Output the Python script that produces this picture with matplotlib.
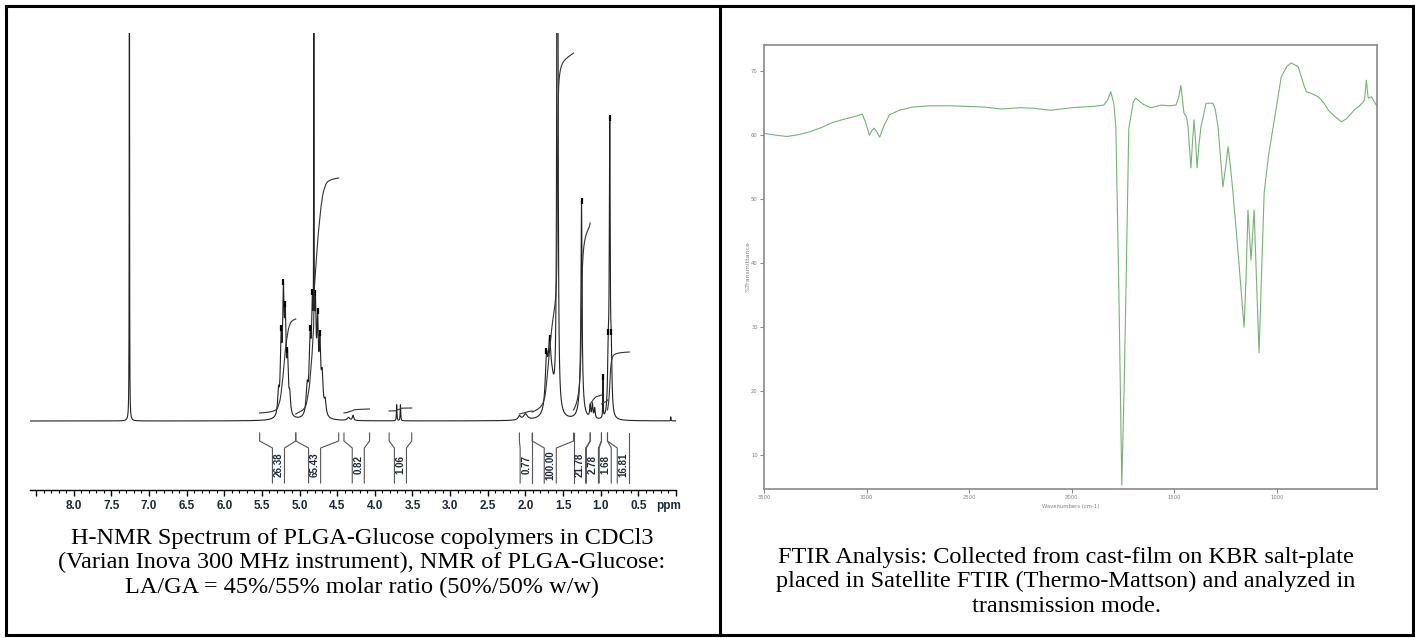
import numpy as np
import matplotlib
matplotlib.use('Agg')
import matplotlib.pyplot as plt
from matplotlib.lines import Line2D

# ---------------- NMR data (ppm, height above baseline, half width) ----------------
peak_ppm = [7.26, 5.28, 5.245, 5.215, 5.19, 5.16, 5.13,
            4.90, 4.86, 4.83, 4.81, 4.79, 4.76, 4.73, 4.70, 4.66,
            4.35, 4.29, 3.71, 3.66, 2.08, 2.00,
            1.72, 1.68, 1.65, 1.575, 1.26, 1.255,
            1.14, 1.11, 1.08, 0.97, 0.90, 0.88, 0.86, 0.07]
peak_height = [700, 22, 70, 110, 85, 50, 18,
               26, 70, 95, 700, 95, 80, 62, 36, 14,
               3, 5, 16, 16, 4, 6,
               50, 50, 30, 1200, 30, 190,
               12, 14, 10, 40, 55, 280, 55, 4]
peak_hwhm = [0.002, 0.012, 0.012, 0.012, 0.012, 0.012, 0.012,
             0.015, 0.015, 0.012, 0.002, 0.012, 0.012, 0.012, 0.015, 0.015,
             0.02, 0.01, 0.004, 0.004, 0.02, 0.03,
             0.02, 0.02, 0.04, 0.006, 0.03, 0.008,
             0.008, 0.008, 0.008, 0.003, 0.01, 0.007, 0.01, 0.003]
pick_ppm = [5.245, 5.215, 5.19, 5.16, 4.86, 4.83, 4.79, 4.76, 4.73,
            1.72, 1.68, 1.255, 0.97, 0.90, 0.88, 0.86]
baseline = 69

# integral regions
int_hi = [5.53, 5.05, 4.41, 3.81, 2.08, 1.91, 1.36, 1.14, 0.99, 0.91]
int_lo = [5.05, 4.48, 4.07, 3.51, 1.91, 1.36, 1.14, 0.99, 0.91, 0.62]
int_val = ['26.38', '65.43', '0.82', '1.06', '0.77', '100.00', '21.78', '2.78', '1.68', '16.81']
int_lab_ppm = [5.28, 4.80, 4.22, 3.66, 1.99, 1.67, 1.28, 1.11, 0.94, 0.70]
int_start = [77, 76, 77, 79, 76, 78, 80, 86, 86, 80]
int_end = [171, 312, 81, 82, 79, 437, 267, 95, 90, 138]

ppm_ticks = [8.5, 8.0, 7.5, 7.0, 6.5, 6.0, 5.5, 5.0, 4.5, 4.0, 3.5, 3.0, 2.5, 2.0, 1.5, 1.0, 0.5, 0.0]

# ---------------- FTIR data ----------------
ftir_wn = [3500, 3440, 3388, 3330, 3280, 3220, 3172, 3110, 3060, 3021, 3005, 2986, 2975, 2963,
           2950, 2936, 2915, 2888, 2840, 2777, 2694, 2600, 2500, 2430, 2342, 2250, 2180, 2103,
           2000, 1900, 1844, 1825, 1810, 1795, 1785, 1770, 1756, 1745, 1736, 1722, 1700, 1688,
           1650, 1614, 1565, 1520, 1492, 1478, 1468, 1460, 1453, 1440, 1433, 1426, 1419, 1412,
           1404, 1396, 1389, 1380, 1370, 1345, 1312, 1300, 1287, 1263, 1250, 1238, 1226, 1214,
           1190, 1160, 1150, 1141, 1126, 1111, 1100, 1087, 1075, 1062, 1040, 1018, 979, 950,
           930, 896, 870, 857, 830, 798, 770, 749, 720, 686, 660, 640, 622, 600, 585, 573,
           564, 555, 539, 525, 515]
ftir_t = [60.3, 60.0, 59.8, 60.1, 60.5, 61.2, 61.9, 62.5, 62.9, 63.3, 62.0, 60.0, 60.7, 61.1,
          60.5, 59.7, 61.5, 63.2, 63.9, 64.4, 64.6, 64.6, 64.5, 64.4, 64.1, 64.3, 64.2, 63.9,
          64.3, 64.5, 64.7, 65.5, 66.8, 65.0, 61.3, 35.3, 5.3, 20.0, 35.0, 61.0, 65.2, 65.8,
          64.8, 64.3, 64.7, 64.6, 64.7, 66.0, 67.8, 65.5, 63.5, 62.8, 61.3, 58.0, 54.9, 58.5,
          62.4, 59.0, 54.9, 58.5, 61.3, 65.0, 65.0, 64.0, 61.3, 51.9, 55.0, 58.2, 55.0, 51.0,
          42.0, 30.0, 38.0, 48.3, 40.5, 48.3, 38.0, 26.0, 38.0, 51.0, 57.0, 61.3, 69.1, 70.8,
          71.3, 70.7, 68.0, 66.8, 66.5, 66.0, 65.0, 63.9, 63.0, 62.1, 62.6, 63.3, 64.0, 64.5,
          65.0, 65.5, 68.6, 65.8, 66.0, 65.2, 64.7]
ftir_xticks = [3500, 3000, 2500, 2000, 1500, 1000]
ftir_yticks = [70, 60, 50, 40, 30, 20, 10]

caption_nmr = ("H-NMR Spectrum of PLGA-Glucose copolymers in CDCl3\n"
               "(Varian Inova 300 MHz instrument), NMR of PLGA-Glucose:\n"
               "LA/GA = 45%/55% molar ratio (50%/50% w/w)")
caption_ftir = ("FTIR Analysis: Collected from cast-film on KBR salt-plate\n"
                "placed in Satellite FTIR (Thermo-Mattson) and analyzed in\n"
                "transmission mode.")

W, H = 1415, 638
fig = plt.figure(figsize=(W / 100, H / 100), dpi=100)


def px(x0, y0, x1, y1):
    # pixel box -> figure fraction rect
    return [x0 / W, 1 - y1 / H, (x1 - x0) / W, (y1 - y0) / H]


# ---------------- NMR panel ----------------
ax = fig.add_axes(px(30, 33, 676, 490))
ppm = np.linspace(8.58, 0.0, 40000)
spec = np.zeros_like(ppm)
for c, h, w in zip(peak_ppm, peak_height, peak_hwhm):
    spec += h * w ** 2 / ((ppm - c) ** 2 + w ** 2)
ax.plot(ppm, baseline + spec, color='#222222', lw=0.8)

# peak pick marks
pick_y = np.interp(pick_ppm, ppm[::-1], (baseline + spec)[::-1])
ax.plot(pick_ppm, pick_y, ls='none', marker='|', ms=4, mew=1.6, color='black')

# integral curves and labels
for hi, lo, val, lp, s, e in zip(int_hi, int_lo, int_val, int_lab_ppm, int_start, int_end):
    m = (ppm <= hi) & (ppm >= lo)
    cum = np.cumsum(spec[m])
    cum = cum / cum[-1]
    ax.plot(ppm[m], s + (e - s) * cum, color='#333333', lw=0.8)
    g = 0.08
    for b, inner in ((hi, lp + g), (lo, lp - g)):
        ax.plot([b, b, inner, inner], [57, 49, 42, 7], color='#555555', lw=0.8)
    ax.text(lp, 25, val, rotation=90, ha='center', va='center', fontsize=7,
            family='Liberation Sans', fontweight='bold', color='#1c2a38')

ax.set_xlim(8.58, 0.0)
ax.set_ylim(0, 457)
for sp in ('top', 'left', 'right'):
    ax.spines[sp].set_visible(False)
ax.spines['bottom'].set_linewidth(1.0)
ax.set_yticks([])
ax.set_xticks(ppm_ticks)
ax.set_xticklabels(['' if t > 8.2 or t == 0 else '%.1f' % t for t in ppm_ticks],
                   family='Liberation Sans', fontweight='bold', fontsize=8.5, color='#1c2a38')
ax.set_xticks(np.arange(0, 8.6, 0.1), minor=True)
ax.tick_params(axis='x', which='major', direction='out', length=4, width=1, pad=3)
ax.tick_params(axis='x', which='minor', direction='out', length=2, width=0.8)
ax.annotate('ppm', xy=(0.1, 0), xycoords=('data', 'axes fraction'), xytext=(0, -7),
            textcoords='offset points', ha='center', va='top',
            family='Liberation Sans', fontweight='bold', fontsize=8.5, color='#1c2a38')
ax.patch.set_alpha(0)

# ---------------- FTIR panel ----------------
bx = fig.add_axes(px(764, 45, 1377, 489))
bx.plot(ftir_wn, ftir_t, color='#74b474', lw=0.8)
bx.set_xlim(3500, 512)
bx.set_ylim(4.7, 74.1)
bx.set_xticks(ftir_xticks)
bx.set_xticklabels([str(t) for t in ftir_xticks], fontsize=3.8, color='#808080')
bx.set_yticks(ftir_yticks)
bx.set_yticklabels([str(t) for t in ftir_yticks], fontsize=3.8, color='#808080')
bx.tick_params(direction='out', length=3, width=0.8, color='#888888', pad=1.5)
for sp in bx.spines.values():
    sp.set_color('#8a8a8a')
    sp.set_linewidth(1.2)
bx.set_xlabel('Wavenumbers (cm-1)', fontsize=3.8, color='#808080', labelpad=3)
bx.set_ylabel('%Transmittance', fontsize=4.5, color='#808080', labelpad=0)

# ---------------- captions ----------------
fig.text(362 / W, 1 - 528 / H, caption_nmr, ha='center', va='top', fontsize=17.5,
         family='Liberation Serif', linespacing=1.2)
fig.text(1066 / W, 1 - 547 / H, caption_ftir, ha='center', va='top', fontsize=17.5,
         family='Liberation Serif', linespacing=1.2)

# ---------------- frame ----------------
lw = 2.2
for xs, ys in (([5.5, 1412.5], [6, 6]), ([5.5, 1412.5], [635, 635]),
               ([5.5, 5.5], [6, 635]), ([1412.5, 1412.5], [6, 635]),
               ([719.5, 719.5], [6, 635])):
    fig.add_artist(Line2D([x / W for x in xs], [1 - y / H for y in ys], color='black',
                          lw=lw, transform=fig.transFigure, solid_capstyle='projecting'))

fig.savefig('out.png', dpi=100)
